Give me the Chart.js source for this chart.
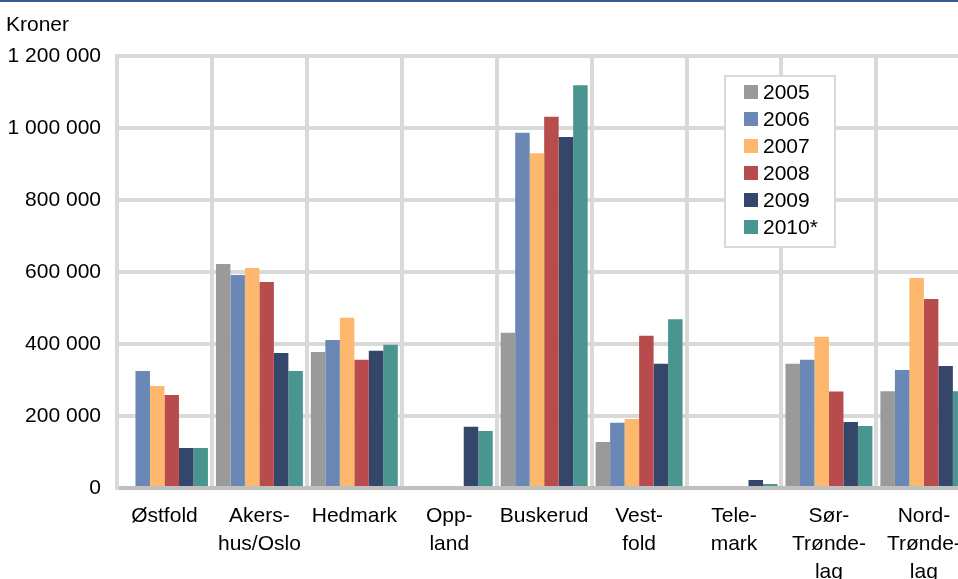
<!DOCTYPE html>
<html>
<head>
<meta charset="utf-8">
<script src="https://cdn.jsdelivr.net/npm/chart.js@4"></script>
<style>
html,body{margin:0;padding:0;background:#fff;overflow:hidden;width:958px;height:579px;}
#topline{position:absolute;left:0;top:0;width:958px;height:2px;background:#3a5c92;}
#wrap{position:absolute;left:0;top:0;width:975px;height:579px;}
</style>
</head>
<body>
<div id="wrap"><canvas id="c" width="975" height="579"></canvas></div>
<div id="topline"></div>
<script>
const categories = [
  ['Østfold'], ['Akers-','hus/Oslo'], ['Hedmark'], ['Opp-','land'], ['Buskerud'],
  ['Vest-','fold'], ['Tele-','mark'], ['Sør-','Trønde-','lag'], ['Nord-','Trønde-','lag']
];
const seriesNames = ['2005','2006','2007','2008','2009','2010*'];
const v2005 = [0, 622000, 378000, 0, 431000, 128000, 0, 345000, 269000];
const v2006 = [325000, 592000, 411000, 0, 987000, 181000, 0, 356000, 328000];
const v2007 = [283000, 611000, 473000, 0, 930000, 192000, 0, 420000, 583000];
const v2008 = [258000, 572000, 356000, 0, 1031000, 423000, 0, 268000, 525000];
const v2009 = [111000, 375000, 381000, 170000, 975000, 345000, 22000, 183000, 339000];
const v2010 = [111000, 325000, 398000, 158000, 1119000, 469000, 11000, 172000, 269000];
const yTicks = [0, 200000, 400000, 600000, 800000, 1000000, 1200000];
const colors = ['#9a9a9a','#6b87b6','#fdb86e','#b84b4c','#34476a','#4b9591'];
const allValues = [v2005, v2006, v2007, v2008, v2009, v2010];

const FONT = "'Liberation Sans', Arial, sans-serif";

const extras = {
  id: 'extras',
  afterDraw(chart) {
    const ctx = chart.ctx;
    ctx.save();
    ctx.font = '21px ' + FONT;
    ctx.fillStyle = '#000';
    ctx.textBaseline = 'alphabetic';
    ctx.textAlign = 'left';
    ctx.fillText('Kroner', 6, 31);
    // legend
    const bx = 725, by = 76, bw = 110, bh = 171;
    ctx.fillStyle = '#fff';
    ctx.fillRect(bx, by, bw, bh);
    ctx.strokeStyle = '#d9d9d9';
    ctx.lineWidth = 2;
    ctx.strokeRect(bx, by, bw, bh);
    chart.data.datasets.forEach((ds, i) => {
      const y = 85 + i * 27;
      ctx.fillStyle = ds.backgroundColor;
      ctx.fillRect(744, y, 14, 14);
      ctx.fillStyle = '#000';
      ctx.textBaseline = 'middle';
      ctx.fillText(ds.label, 763, y + 8);
    });
    ctx.restore();
  }
};

new Chart(document.getElementById('c'), {
  type: 'bar',
  data: {
    labels: categories,
    datasets: seriesNames.map((n, i) => ({
      label: n,
      data: allValues[i],
      backgroundColor: colors[i],
      borderWidth: 0,
      categoryPercentage: 0.916,
      barPercentage: 1.0
    }))
  },
  options: {
    responsive: false,
    animation: false,
    devicePixelRatio: 1,
    layout: { padding: { top: 56, right: 3, left: 0, bottom: 0 } },
    plugins: { legend: { display: false }, tooltip: { enabled: false } },
    scales: {
      x: {
        grid: { color: '#d9d9d9', lineWidth: 4, drawTicks: false, offset: true },
        border: { color: '#c0c0c0', width: 4 },
        ticks: { color: '#000', font: { family: FONT, size: 21, lineHeight: 1.33 }, padding: 14, maxRotation: 0, autoSkip: false },
        afterFit(s) { s.height = 91; }
      },
      y: {
        min: 0, max: 1200000,
        afterBuildTicks(s) { s.ticks = yTicks.map(v => ({ value: v })); },
        grid: { color: '#d9d9d9', lineWidth: 4, drawTicks: false },
        border: { color: '#d9d9d9', width: 4 },
        ticks: {
          color: '#000', font: { family: FONT, size: 21 }, padding: 16,
          callback: v => String(v).replace(/\B(?=(\d{3})+(?!\d))/g, ' ')
        },
        afterFit(s) { s.width = 117; }
      }
    }
  },
  plugins: [extras]
});
</script>
</body>
</html>
